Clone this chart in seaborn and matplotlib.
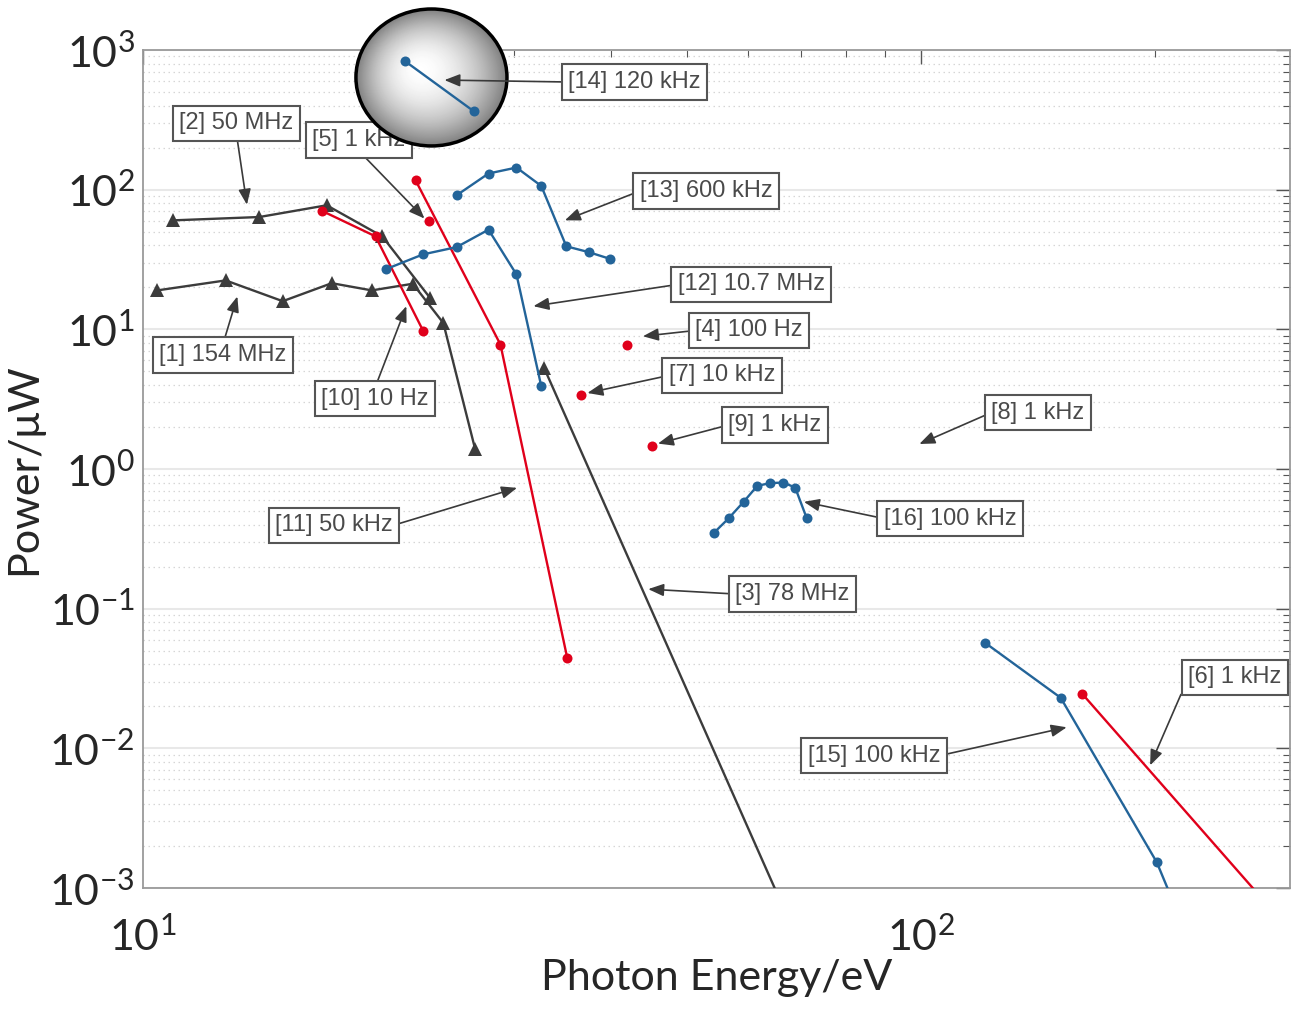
import numpy as np
import pandas as pd
import matplotlib
matplotlib.use("Agg")
import matplotlib.pyplot as plt
import seaborn as sns
from matplotlib.patches import Ellipse
from matplotlib.ticker import FixedLocator, NullFormatter, LogFormatterSciNotation

# ---------------- data ----------------
s1_x = [10.43, 12.77, 15.12, 17.48, 19.68, 22.22, 24.32, 26.72]
s1_y = [19.0, 22.4, 15.9, 21.4, 19.0, 21.2, 11.1, 1.39]
s2_x = [10.94, 14.11, 17.22, 20.30, 23.38]
s2_y = [60.3, 63.7, 77.3, 46.3, 16.8]
s3_x = [32.77, 67.9]
s3_y = [5.30, 5.6e-4]
s4_x = [41.9]
s4_y = [7.78]
s5_x = [23.3]
s5_y = [59.7]
s6_x = [161.2, 289.3]
s6_y = [0.0245, 6.0e-4]
s7_x = [36.6]
s7_y = [3.41]
s9_x = [45.1]
s9_y = [1.47]
s10_x = [17.0, 19.9, 22.9]
s10_y = [70.3, 46.3, 9.8]
s11_x = [22.4, 28.8, 35.1]
s11_y = [116.8, 7.78, 0.0442]
s12_x = [20.5, 22.9, 25.3, 27.8, 30.2, 32.5]
s12_y = [26.9, 34.4, 38.8, 51.7, 24.7, 3.91]
s13_x = [25.3, 27.8, 30.2, 32.5, 35.0, 37.4, 39.8]
s13_y = [91.2, 130.5, 144.0, 106.3, 39.3, 35.7, 32.0]
s14_x = [21.7, 26.6]
s14_y = [834.0, 365.0]
s15_x = [120.9, 151.2, 200.9, 215.4]
s15_y = [0.0569, 0.0230, 0.00153, 6.0e-4]
s16_x = [54.2, 56.6, 59.2, 61.6, 64.0, 66.5, 68.9, 71.3]
s16_y = [0.350, 0.444, 0.585, 0.758, 0.792, 0.800, 0.737, 0.444]

x_major = [10, 100]
y_major = [1e-3, 1e-2, 1e-1, 1e0, 1e1, 1e2, 1e3]

GRAY, RED, BLUE = "#3c3c3c", "#e0001b", "#236499"
series = [
    (s1_x, s1_y, GRAY, "^"), (s2_x, s2_y, GRAY, "^"), (s3_x, s3_y, GRAY, "^"),
    (s10_x, s10_y, RED, "o"), (s11_x, s11_y, RED, "o"), (s5_x, s5_y, RED, "o"),
    (s4_x, s4_y, RED, "o"), (s7_x, s7_y, RED, "o"), (s9_x, s9_y, RED, "o"),
    (s6_x, s6_y, RED, "o"),
    (s12_x, s12_y, BLUE, "o"), (s13_x, s13_y, BLUE, "o"), (s14_x, s14_y, BLUE, "o"),
    (s15_x, s15_y, BLUE, "o"), (s16_x, s16_y, BLUE, "o"),
]

# annotations: label, box centre (axes fraction), arrow tip (data), arrow start (relpos)
ann_labels = ["[14] 120 kHz", "[2] 50 MHz", "[5] 1 kHz", "[13] 600 kHz", "[12] 10.7 MHz",
              "[4] 100 Hz", "[1] 154 MHz", "[7] 10 kHz", "[10] 10 Hz", "[8] 1 kHz",
              "[9] 1 kHz", "[11] 50 kHz", "[16] 100 kHz", "[3] 78 MHz", "[6] 1 kHz",
              "[15] 100 kHz"]
ann_box = [(0.4285, 0.9618), (0.0815, 0.9123), (0.1883, 0.8926), (0.4909, 0.8317),
           (0.5301, 0.7202), (0.5283, 0.6653), (0.0697, 0.6360), (0.5048, 0.6116),
           (0.2023, 0.5841), (0.7803, 0.5674), (0.5510, 0.5525), (0.1665, 0.4326),
           (0.7036, 0.4409), (0.5663, 0.3508), (0.9520, 0.2512), (0.6373, 0.1581)]
ann_tip = [(24.4, 609), (13.6, 78.0), (23.0, 62.1), (34.85, 60.3), (31.75, 14.65),
           (43.9, 8.92), (13.22, 17.2), (37.25, 3.50), (21.8, 14.65), (99.5, 1.51),
           (45.9, 1.52), (30.25, 0.733), (70.7, 0.582), (44.6, 0.138), (197.0, 0.00755),
           (153.9, 0.01415)]
ann_rel = [(0, 0.5), (0.5, 0), (0.5, 0), (0, 0.5), (0, 0.5), (0, 0.5), (0.5, 1),
           (0, 0.5), (0.5, 1), (0, 0.5), (0, 0.5), (1, 0.5), (0, 0.5), (0, 0.5),
           (0, 0.5), (1, 0.5)]

# ---------------- style ----------------
sns.set_style("white")
plt.rcParams["font.family"] = ["Lato", "DejaVu Sans"]
plt.rcParams["axes.unicode_minus"] = False

fig = plt.figure(figsize=(12.91, 10.10), dpi=100)
ax = fig.add_axes([0.1108, 0.1208, 0.8884, 0.8297])

for xs, ys, col, mk in series:
    df = pd.DataFrame({"energy": xs, "power": ys})
    ms = 10 if mk == "^" else 7.2
    sns.lineplot(data=df, x="energy", y="power", ax=ax, color=col, marker=mk,
                 markersize=ms, markeredgewidth=0, linewidth=1.7, sort=False,
                 estimator=None, legend=False, zorder=4)

ax.set_xscale("log")
ax.set_yscale("log")
ax.set_xlim(10, 298)
ax.set_ylim(1e-3, 1e3)

y_minor = [m * d for d in y_major[:-1] for m in range(2, 10)]
x_minor = [m * d for d in x_major for m in range(2, 10) if m * d < 298]
ax.yaxis.set_major_locator(FixedLocator(y_major))
ax.yaxis.set_minor_locator(FixedLocator(y_minor))
ax.yaxis.set_major_formatter(LogFormatterSciNotation())
ax.yaxis.set_minor_formatter(NullFormatter())
ax.xaxis.set_major_locator(FixedLocator(x_major))
ax.xaxis.set_minor_locator(FixedLocator(x_minor))
ax.xaxis.set_major_formatter(LogFormatterSciNotation())
ax.xaxis.set_minor_formatter(NullFormatter())

ax.grid(False)
ax.yaxis.grid(True, which="major", color="#e8e8e8", linewidth=1.5, linestyle="-")
ax.yaxis.grid(True, which="minor", color="#d6d6d6", linewidth=0.9, linestyle=(0, (1.2, 2.8)))
ax.set_axisbelow(True)

for sp in ax.spines.values():
    sp.set_color("#9a9a9a")
    sp.set_linewidth(1.3)
ax.tick_params(which="both", direction="in", top=True, right=True, color="#555555")
ax.tick_params(which="major", length=10, width=1.0)
ax.tick_params(which="minor", length=5, width=0.8)
ax.tick_params(axis="y", which="major", labelsize=31, pad=6)
ax.tick_params(axis="x", which="major", labelsize=31, pad=20)

ax.set_xlabel("Photon Energy/eV", fontsize=31, labelpad=1)
ax.set_ylabel("Power/μW", fontsize=31, labelpad=4)

# ---------------- highlight circle ----------------
cx, cy, W, H = 0.3342, 0.9233, 0.1170, 0.1356
hx, hy = 0.3250, 0.9320
n = 70
for i in range(n):
    t = 1 - i / n
    g = 0.50 + 0.50 * (1 - t ** 2.0)
    e = Ellipse((hx + (cx - hx) * t, hy + (cy - hy) * t), W * t, H * t,
                transform=fig.transFigure, fc=(g, g, g), ec="none",
                zorder=3.5, clip_on=False)
    ax.add_artist(e)
ax.add_artist(Ellipse((cx, cy), W, H, transform=fig.transFigure, fc="none",
                      ec="black", lw=2.5, zorder=3.6, clip_on=False))

# ---------------- annotations ----------------
for lab, (bx, by), (tx, ty), rel in zip(ann_labels, ann_box, ann_tip, ann_rel):
    z = 6 if lab.startswith("[14]") else 3
    ax.annotate(lab, xy=(tx, ty), xycoords="data", xytext=(bx, by),
                textcoords="axes fraction", ha="center", va="center",
                fontsize=17, color="#4a4a4a", family=["Liberation Sans", "DejaVu Sans"],
                bbox=dict(boxstyle="square,pad=0.28", fc="white", ec="#555555", lw=1.5),
                arrowprops=dict(arrowstyle="-|>,head_length=0.55,head_width=0.22",
                                color="#3a3a3a", lw=1.2, shrinkA=0, shrinkB=0,
                                relpos=rel),
                zorder=z, annotation_clip=False)

fig.savefig("out.png", dpi=100, facecolor="white")
